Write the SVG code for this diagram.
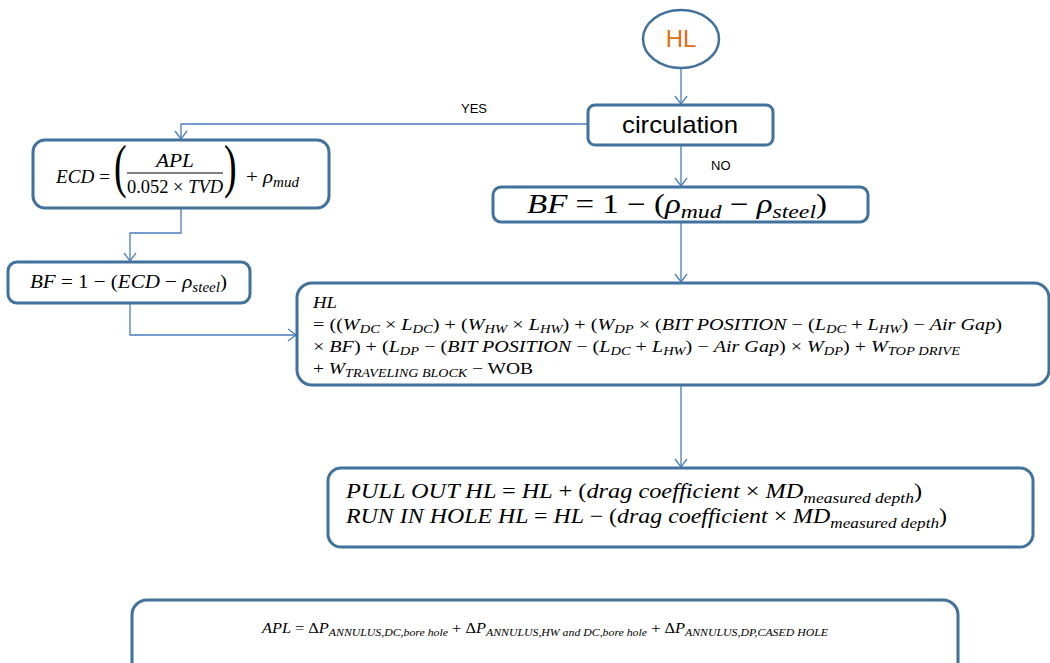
<svg xmlns="http://www.w3.org/2000/svg" width="1050" height="663" viewBox="0 0 1050 663">
  <defs>
    <marker id="arrow" markerUnits="userSpaceOnUse" markerWidth="12" markerHeight="14" refX="9" refY="7" orient="auto">
      <path d="M1,1 L9,7 L1,13" fill="none" stroke="#4A7EBB" stroke-width="1.3"/>
    </marker>
    <style>
      .box { fill: #fff; stroke: #41719C; stroke-width: 3; }
      .conn { fill: none; stroke: #4A7EBB; stroke-width: 1.3; marker-end: url(#arrow); }
      .m { font-family: "Liberation Serif", "DejaVu Serif", serif; font-style: italic; fill: #000; }
      .u { font-style: normal; }
      .s { font-size: 0.72em; }
      .lbl { font-family: "Liberation Sans", Arial, sans-serif; font-size: 13px; fill: #000; }
    </style>
  </defs>

  <rect width="1050" height="663" fill="#fff"/>

  <!-- connectors -->
  <g id="connectors">
    <path class="conn" d="M681,68 V104"/>
    <path class="conn" d="M588,124 H181 V139"/>
    <path class="conn" d="M681,145 V186"/>
    <path class="conn" d="M181,208 V233 H130 V261"/>
    <path class="conn" d="M130,303 V335 H296"/>
    <path class="conn" d="M681,222 V282"/>
    <path class="conn" d="M681,385 V467"/>
    <text class="lbl" x="461" y="113">YES</text>
    <text class="lbl" x="711" y="170">NO</text>
  </g>

  <!-- start -->
  <g id="start">
    <ellipse cx="681" cy="39" rx="38" ry="29" fill="#fff" stroke="#41719C" stroke-width="2.5"/>
    <text x="681" y="47" text-anchor="middle" font-family="Liberation Sans, Arial, sans-serif" font-size="24" fill="#E46C0A">HL</text>
  </g>

  <!-- decision -->
  <g id="circulation">
    <rect class="box" x="588" y="105" width="185" height="40" rx="7"/>
    <text x="680" y="133" text-anchor="middle" font-family="Liberation Sans, Arial, sans-serif" font-size="24" textLength="116" lengthAdjust="spacingAndGlyphs">circulation</text>
  </g>

  <!-- equivalent circulating density -->
  <g id="ecd">
    <rect class="box" x="33" y="140" width="296" height="68" rx="12"/>
    <text class="m" x="56" y="183" font-size="19" textLength="54" lengthAdjust="spacingAndGlyphs">ECD <tspan class="u">=</tspan></text>
    <text class="m u" transform="translate(114,186) scale(1,1.55)" font-size="38">(</text>
    <text class="m" x="175" y="167" font-size="19" text-anchor="middle" textLength="38" lengthAdjust="spacingAndGlyphs">APL</text>
    <line x1="127" y1="173" x2="223" y2="173" stroke="#000" stroke-width="1"/>
    <text class="m" x="175" y="193" font-size="19" text-anchor="middle" textLength="96" lengthAdjust="spacingAndGlyphs"><tspan class="u">0.052 × </tspan>TVD</text>
    <text class="m u" transform="translate(224,186) scale(1,1.55)" font-size="38">)</text>
    <text class="m" x="246" y="183" font-size="19" textLength="53" lengthAdjust="spacingAndGlyphs"><tspan class="u">+ </tspan>ρ<tspan class="s" dy="4">mud</tspan></text>
  </g>

  <!-- buoyancy factor, circulating -->
  <g id="bf-ecd">
    <rect class="box" x="8" y="262" width="242" height="41" rx="9"/>
    <text class="m" x="30" y="288" font-size="19" textLength="197" lengthAdjust="spacingAndGlyphs">BF <tspan class="u">= 1 − (</tspan>ECD <tspan class="u">−</tspan> ρ<tspan class="s" dy="4">steel</tspan><tspan class="u" dy="-4">)</tspan></text>
  </g>

  <!-- buoyancy factor, static -->
  <g id="bf-mud">
    <rect class="box" x="493" y="187" width="375" height="35" rx="8"/>
    <text class="m" x="527" y="213" font-size="27" textLength="300" lengthAdjust="spacingAndGlyphs">BF <tspan class="u">= 1 − (</tspan>ρ<tspan class="s" dy="5">mud</tspan><tspan class="u" dy="-5"> − </tspan>ρ<tspan class="s" dy="5">steel</tspan><tspan class="u" dy="-5">)</tspan></text>
  </g>

  <!-- hook load -->
  <g id="hook-load">
    <rect class="box" x="297" y="283" width="752" height="102" rx="15"/>
    <text class="m" x="313" y="308" font-size="17" textLength="24" lengthAdjust="spacingAndGlyphs">HL</text>
    <text class="m" x="313" y="330" font-size="17" textLength="689" lengthAdjust="spacingAndGlyphs"><tspan class="u">= ((</tspan>W<tspan class="s" dy="3">DC</tspan><tspan class="u" dy="-3"> × </tspan>L<tspan class="s" dy="3">DC</tspan><tspan class="u" dy="-3">) + (</tspan>W<tspan class="s" dy="3">HW</tspan><tspan class="u" dy="-3"> × </tspan>L<tspan class="s" dy="3">HW</tspan><tspan class="u" dy="-3">) + (</tspan>W<tspan class="s" dy="3">DP</tspan><tspan class="u" dy="-3"> ×  (</tspan>BIT POSITION <tspan class="u">− (</tspan>L<tspan class="s" dy="3">DC</tspan><tspan class="u" dy="-3"> + </tspan>L<tspan class="s" dy="3">HW</tspan><tspan class="u" dy="-3">) − </tspan>Air Gap<tspan class="u">)</tspan></text>
    <text class="m" x="313" y="352" font-size="17" textLength="647" lengthAdjust="spacingAndGlyphs"><tspan class="u">× </tspan>BF<tspan class="u">) + (</tspan>L<tspan class="s" dy="3">DP</tspan><tspan class="u" dy="-3"> −  (</tspan>BIT POSITION <tspan class="u">− (</tspan>L<tspan class="s" dy="3">DC</tspan><tspan class="u" dy="-3"> + </tspan>L<tspan class="s" dy="3">HW</tspan><tspan class="u" dy="-3">) − </tspan>Air Gap<tspan class="u">) × </tspan>W<tspan class="s" dy="3">DP</tspan><tspan class="u" dy="-3">) + </tspan>W<tspan class="s" dy="3">TOP DRIVE</tspan></text>
    <text class="m" x="313" y="374" font-size="17" textLength="220" lengthAdjust="spacingAndGlyphs"><tspan class="u">+ </tspan>W<tspan class="s" dy="3">TRAVELING BLOCK</tspan><tspan class="u" dy="-3"> − WOB</tspan></text>
  </g>

  <!-- tripping loads -->
  <g id="tripping">
    <rect class="box" x="328" y="468" width="705" height="79" rx="13"/>
    <text class="m" x="346" y="498" font-size="21" textLength="576" lengthAdjust="spacingAndGlyphs">PULL OUT HL <tspan class="u">= </tspan>HL <tspan class="u">+ (</tspan>drag coefficient <tspan class="u">× </tspan>MD<tspan class="s" dy="5">measured depth</tspan><tspan class="u" dy="-5">)</tspan></text>
    <text class="m" x="346" y="523" font-size="21" textLength="601" lengthAdjust="spacingAndGlyphs">RUN IN HOLE HL <tspan class="u">= </tspan>HL <tspan class="u">− (</tspan>drag coefficient <tspan class="u">× </tspan>MD<tspan class="s" dy="5">measured depth</tspan><tspan class="u" dy="-5">)</tspan></text>
  </g>

  <!-- annular pressure loss -->
  <g id="apl">
    <rect class="box" x="132" y="600" width="826" height="80" rx="15"/>
    <text class="m" x="262" y="633" font-size="14" textLength="566" lengthAdjust="spacingAndGlyphs">APL <tspan class="u">= Δ</tspan>P<tspan class="s" dy="3">ANNULUS,DC,bore hole</tspan><tspan class="u" dy="-3"> + Δ</tspan>P<tspan class="s" dy="3">ANNULUS,HW and DC,bore hole</tspan><tspan class="u" dy="-3"> + Δ</tspan>P<tspan class="s" dy="3">ANNULUS,DP,CASED HOLE</tspan></text>
  </g>
</svg>
